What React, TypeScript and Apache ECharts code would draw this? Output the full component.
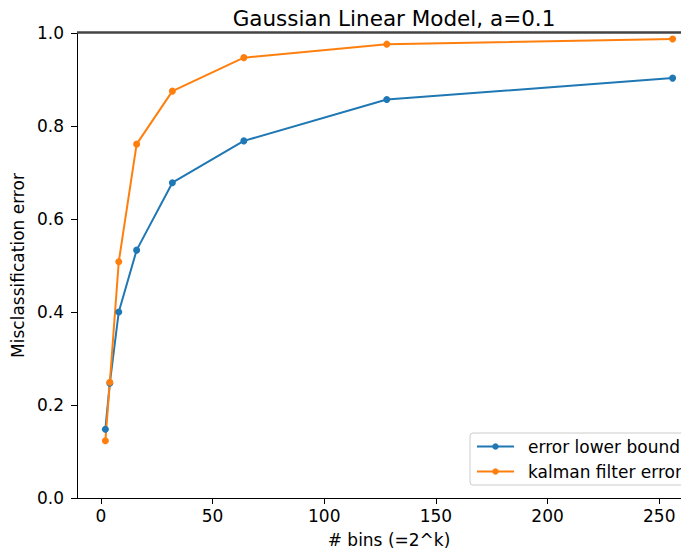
import React, { useEffect, useRef } from "react";
import * as echarts from "echarts";

const bins = [2, 4, 8, 16, 32, 64, 128, 256];
const lowerBound = [0.148, 0.247, 0.4, 0.533, 0.678, 0.768, 0.857, 0.903];
const kalmanError = [0.123, 0.249, 0.508, 0.761, 0.875, 0.947, 0.976, 0.987];
const xTicks = [0, 50, 100, 150, 200, 250];

const FONT = "DejaVu Sans";

export default function App() {
  const ref = useRef<HTMLDivElement>(null);
  useEffect(() => {
    const chart = echarts.init(ref.current!, null, { renderer: "svg" });
    const pair = (ys: number[]) => bins.map((x, i) => [x, ys[i]]);
    chart.setOption({
      animation: false,
      backgroundColor: "#fff",
      textStyle: { fontFamily: FONT },
      title: {
        text: "Gaussian Linear Model, a=0.1",
        left: 389,
        textAlign: "center",
        top: 2,
        textStyle: { fontFamily: FONT, fontSize: 21.5, fontWeight: "normal", color: "#000" },
      },
      grid: { left: 77, top: 33, width: 624, height: 465, outerBoundsMode: "none", containLabel: false },
      legend: {
        orient: "vertical",
        left: 470,
        top: 433,
        padding: [5, 8, 5, 6],
        itemWidth: 37,
        itemHeight: 8,
        itemGap: 8,
        backgroundColor: "rgba(255,255,255,0.8)",
        borderColor: "#cccccc",
        borderWidth: 1,
        borderRadius: 3,
        lineStyle: { width: 2 },
        textStyle: { fontFamily: FONT, fontSize: 17, color: "#000", padding: [0, 0, 0, 9] },
        data: ["error lower bound", "kalman filter error"],
      },
      xAxis: {
        type: "value",
        min: -10.7,
        max: 268.7,
        name: "# bins (=2^k)",
        nameLocation: "middle",
        nameGap: 33,
        nameTextStyle: { fontFamily: FONT, fontSize: 17, color: "#000" },
        axisLine: { show: true, onZero: false, lineStyle: { color: "#000", width: 1 } },
        axisTick: { show: true, length: 6, inside: false, customValues: xTicks, lineStyle: { color: "#000" } },
        axisLabel: { customValues: xTicks, margin: 9, fontFamily: FONT, fontSize: 17, color: "#000" },
        splitLine: { show: false },
      },
      yAxis: {
        type: "value",
        min: 0,
        max: 1,
        interval: 0.2,
        name: "Misclassification error",
        nameLocation: "middle",
        nameGap: 50,
        nameTextStyle: { fontFamily: FONT, fontSize: 17, color: "#000" },
        axisLine: { show: true, onZero: false, lineStyle: { color: "#000", width: 1 } },
        axisTick: { show: true, length: 6, lineStyle: { color: "#000" } },
        axisLabel: {
          margin: 13,
          fontFamily: FONT,
          fontSize: 17,
          color: "#000",
          formatter: (v: number) => v.toFixed(1),
        },
        splitLine: { show: false },
      },
      graphic: [
        {
          type: "line",
          shape: { x1: 77, y1: 32.5, x2: 689, y2: 32.5 },
          style: { stroke: "#444", lineWidth: 2.5 },
          z: 10,
        },
      ],
      series: [
        {
          name: "error lower bound",
          type: "line",
          data: pair(lowerBound),
          color: "#1f77b4",
          symbol: "circle",
          symbolSize: 7,
          lineStyle: { width: 2 },
        },
        {
          name: "kalman filter error",
          type: "line",
          data: pair(kalmanError),
          color: "#ff7f0e",
          symbol: "circle",
          symbolSize: 7,
          lineStyle: { width: 2 },
        },
      ],
    });
    return () => chart.dispose();
  }, []);
  return <div ref={ref} style={{ width: 689, height: 556, margin: -8 }} />;
}
